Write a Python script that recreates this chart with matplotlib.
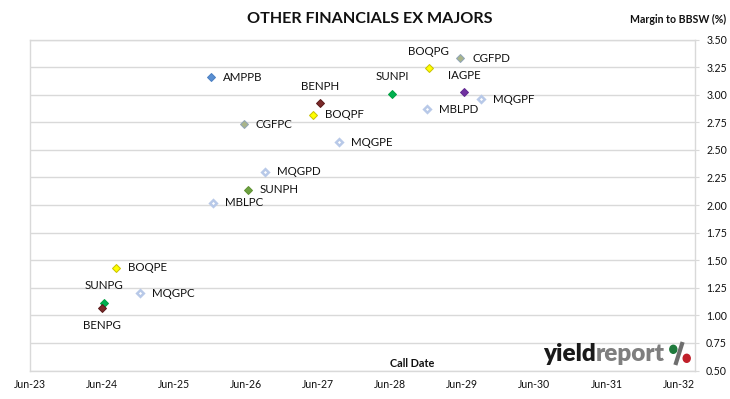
import matplotlib
matplotlib.use('Agg')
import matplotlib.pyplot as plt
import matplotlib.dates as mdates
from matplotlib.patches import Ellipse
from matplotlib.lines import Line2D
import pandas as pd

plt.rcParams['font.family'] = ['Lato', 'DejaVu Sans']

# hybrid codes, call dates and margins
codes = ['AMPPB', 'BOQPG', 'CGFPD', 'SUNPI', 'IAGPE', 'MQGPF', 'MBLPD', 'BENPH', 'BOQPF',
         'CGFPC', 'MQGPE', 'MQGPD', 'SUNPH', 'MBLPC', 'BOQPE', 'MQGPC', 'SUNPG', 'BENPG']
call_dates = ['2025-12-07', '2028-12-13', '2029-05-21', '2028-06-10', '2029-06-11', '2029-09-05',
              '2028-12-06', '2027-06-10', '2027-05-09', '2026-05-20', '2027-09-17', '2026-09-06',
              '2026-06-12', '2025-12-17', '2024-08-10', '2024-12-11', '2024-06-11', '2024-06-03']
margins = [3.16, 3.24, 3.33, 3.01, 3.02, 2.96, 2.87, 2.92, 2.82,
           2.73, 2.57, 2.30, 2.14, 2.02, 1.43, 1.20, 1.115, 1.07]

y_ticks = [0.50, 0.75, 1.00, 1.25, 1.50, 1.75, 2.00, 2.25, 2.50, 2.75, 3.00, 3.25, 3.50]
x_tick_years = list(range(2023, 2033))

# marker face / edge colours per code
styles = {
    'AMPPB': ('#5a8fd2', '#4a7fc2'),
    'BOQPG': ('#ffff00', '#c8c000'), 'BOQPF': ('#ffff00', '#c8c000'), 'BOQPE': ('#ffff00', '#c8c000'),
    'CGFPD': ('#a9b48a', '#8fa4b8'), 'CGFPC': ('#a9b48a', '#8fa4b8'),
    'SUNPI': ('#00b050', '#00a040'), 'SUNPG': ('#00b050', '#00a040'),
    'SUNPH': ('#6ea142', '#5e9132'),
    'IAGPE': ('#7030a0', '#602890'),
    'BENPH': ('#7b2a2a', '#5a1a1a'), 'BENPG': ('#7b2a2a', '#5a1a1a'),
}
hollow_edge = '#b8c9e8'
above = ['BOQPG', 'SUNPI', 'IAGPE', 'BENPH', 'SUNPG']
below = ['BENPG']

dates = pd.to_datetime(call_dates)

fig = plt.figure(figsize=(7.3, 3.99), dpi=100)
ax = fig.add_axes([29.5 / 730, 1 - 370.5 / 399, (695 - 29.5) / 730, (370.5 - 39.5) / 399])

for code, d, m in zip(codes, dates, margins):
    if code in styles:
        fc, ec = styles[code]
        ax.plot(d, m, 'D', ms=3.7, mfc=fc, mec=ec, mew=0.7, zorder=3)
    else:
        ax.plot(d, m, 'D', ms=3.4, mfc='white', mec=hollow_edge, mew=1.8, zorder=3)
    if code in above:
        ax.annotate(code, (d, m), xytext=(0, 12), textcoords='offset points',
                    ha='center', va='center', fontsize=8.3, color='#111111')
    elif code in below:
        ax.annotate(code, (d, m), xytext=(0, -13), textcoords='offset points',
                    ha='center', va='center', fontsize=8.3, color='#111111')
    else:
        ax.annotate(code, (d, m), xytext=(8.6, 0), textcoords='offset points',
                    ha='left', va='center', fontsize=8.3, color='#111111')

ax.set_xlim(pd.Timestamp('2023-06-01'), pd.Timestamp('2032-08-22'))
ax.set_ylim(0.5, 3.5)
ax.set_yticks(y_ticks)
ax.set_yticklabels(['%.2f' % v for v in y_ticks])
ax.set_xticks([pd.Timestamp('%d-06-01' % yr) for yr in x_tick_years])
ax.xaxis.set_major_formatter(mdates.DateFormatter('%b-%y'))
ax.yaxis.tick_right()
ax.tick_params(axis='y', length=3, color='#d9d9d9', pad=5, labelsize=7.6, labelcolor='#111111')
ax.tick_params(axis='x', length=0, pad=6, labelsize=7.6, labelcolor='#111111')
ax.grid(axis='y', color='#d9d9d9', lw=1)
ax.set_axisbelow(True)
for s in ax.spines.values():
    s.set_color('#d9d9d9')
    s.set_linewidth(1)

fig.text(370 / 730, 1 - 19 / 399, 'OTHER FINANCIALS EX MAJORS', ha='center', va='center',
         fontsize=11.6, fontweight='bold', color='#111111')
fig.text(726 / 730, 1 - 19.3 / 399, 'Margin to BBSW (%)', ha='right', va='center',
         fontsize=7.6, fontweight='bold', color='#111111')
fig.text(411.7 / 730, 1 - 363.3 / 399, 'Call Date', ha='center', va='center',
         fontsize=7.8, fontweight='bold', color='#111111')

# yieldreport logo
r = fig.canvas.get_renderer()
t1 = fig.text(543 / 730, 1 - 361 / 399, 'yield', ha='left', va='baseline',
              fontsize=17.5, fontweight='heavy', color='#1a1a1a')
bb = t1.get_window_extent(renderer=r)
fig.text(bb.x1 / 730, 1 - 361 / 399, 'report', ha='left', va='baseline',
         fontsize=17.5, fontweight='heavy', color='#7f7f7f')
fig.add_artist(Line2D([682 / 730, 676 / 730], [1 - 344 / 399, 1 - 363 / 399],
                      transform=fig.transFigure, color='#6e6e6e', lw=3))
fig.add_artist(Ellipse((673.3 / 730, 1 - 349.3 / 399), 7 / 730, 8 / 399,
                       transform=fig.transFigure, color='#1e7a3c'))
fig.add_artist(Ellipse((686.7 / 730, 1 - 358.3 / 399), 7 / 730, 8 / 399,
                       transform=fig.transFigure, color='#c0202a'))

fig.savefig('out.png', dpi=100)
